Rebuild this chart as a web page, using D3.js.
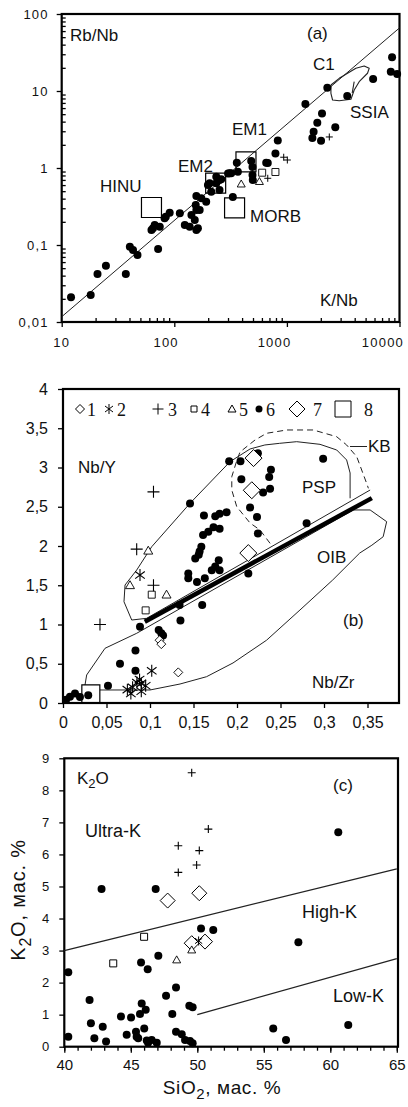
<!DOCTYPE html>
<html>
<head>
<meta charset="utf-8">
<script src="https://cdn.jsdelivr.net/npm/d3@7"></script>
<style>
  html, body { margin: 0; padding: 0; background: #fff; }
  svg text { font-family: "Liberation Sans", Arial, sans-serif; fill: #111; }
  .legend-num { font-family: "Liberation Serif", "Times New Roman", serif; }
</style>
</head>
<body>
<svg id="chart" width="408" height="1107"></svg>
<script>
// ---------- Panel (a): Rb/Nb vs K/Nb (log-log) ----------
const aXTicks = [10, 100, 1000, 10000];
const aYTicks = [0.01, 0.1, 1, 10, 100];
const aCircles = [
  [8590,27.4],[8370,17.8],[9530,16.6],[5830,14.3],[2285,11.0],[3435,8.6],[1460,6.8],[2050,5.1],
  [1862,3.87],[2690,3.38],[1727,2.96],[1683,2.45],[2010,2.26],[830,2.28],[791,1.54],[676,1.16],
  [482,1.23],[359,1.17],[495,1.03],[495,0.81],[320,0.853],[252,0.698],[206,0.632],[300,0.85],
  [261,0.713],[236,0.632],[199,0.601],[213,0.492],[252,0.518],[331,0.42],[174,0.404],[155,0.33],
  [157,0.285],[142,0.245],[152,0.211],[137,0.173],[162,0.165],[112,0.258],[91,0.262],[84,0.233],
  [74.3,0.173],[64.7,0.165],[124,0.182],[82,0.222],[71.8,0.0888],[40.3,0.095],[43,0.086],[47.1,0.074],
  [37.1,0.042],[24.7,0.0538],[20.8,0.042],[18.1,0.0224],[12.1,0.0209],[236,0.77],[310,0.853],
  [192,0.365],[168,0.285],[157,0.157],[67,0.182],[62.7,0.157],[157,0.433],[367,0.895],[498,0.698],[655,1.17]
];
const aPlus = [[2380,2.53],[937,1.38],[1009,1.27],[676,0.735]];
const aSmallSquares = [[603,0.869],[791,0.887]];
const aTriangles = [[393,0.62],[570,0.668]];
const aRefNames = ["EM1", "EM2", "HINU", "MORB"];
const aRefPoints = [[433,1.2],[233,0.638],[62.7,0.307],[343,0.303]];
const aTrend = [[10,0.0117],[10000,66]];
const aSSIA = [[2460,11.97],[2915,14.6],[4100,19.7],[4855,21.1],[5380,19.7],[5200,17.0],[4385,13.2],
  [3960,10.3],[3705,7.8],[2915,7.48],[2545,7.64],[2460,9.33],[2460,11.97]];
const aSSIATick = [[3960,13.2],[3800,9.42]];

// ---------- Panel (b): Nb/Y vs Nb/Zr ----------
const bXTicks = [0, 0.05, 0.1, 0.15, 0.2, 0.25, 0.3, 0.35];
const bYTicks = [0, 0.5, 1, 1.5, 2, 2.5, 3, 3.5, 4];
const bCircles = [
  [0.191,3.08],[0.204,3.08],[0.224,3.18],[0.299,3.11],[0.205,2.85],[0.239,2.97],[0.237,2.88],[0.238,2.73],
  [0.230,2.68],[0.146,2.54],[0.215,2.49],[0.223,2.37],[0.162,2.39],[0.175,2.38],[0.180,2.41],[0.188,2.43],
  [0.280,2.29],[0.173,2.24],[0.180,2.22],[0.161,2.14],[0.167,2.18],[0.224,2.16],[0.159,1.99],[0.157,1.93],
  [0.156,1.89],[0.152,1.84],[0.179,1.82],[0.175,1.74],[0.180,1.69],[0.171,1.69],[0.144,1.65],[0.144,1.59],
  [0.154,1.54],[0.163,1.59],[0.213,1.65],[0.134,1.25],[0.160,1.25],[0.0885,0.97],[0.135,1.05],[0.110,0.93],
  [0.113,0.89],[0.115,0.86],[0.0833,0.67],[0.0655,0.50],[0.0833,0.41],[0.0517,0.22],[0.0138,0.12],
  [0.008,0.08],[0.029,0.10],[0.0035,0.04],[0.0195,0.076]
];
const bAsterisks = [[0.0885,1.63],[0.102,0.41],[0.074,0.17],[0.08,0.2],[0.085,0.26],[0.09,0.25],
  [0.095,0.22],[0.088,0.3],[0.078,0.12],[0.09,0.15]];
const bPlus = [[0.0847,1.96],[0.0425,1.0],[0.104,1.5],[0.104,2.69]];
const bSmallSquares = [[0.102,1.38],[0.095,1.18]];
const bTriangles = [[0.098,1.94],[0.077,1.50],[0.119,1.38]];
const bSmallDiamonds = [[0.111,0.80],[0.113,0.75],[0.1325,0.39]];
const bBigDiamonds = [[0.219,3.12],[0.217,2.71],[0.213,1.91]];
const bBigSquares = [[0.032,0.115]];
const bThickLine = [[0.094,1.036],[0.355,2.61]];
const bUpperLine = [[0.0962,1.079],[0.353,2.713]];
const bPSP = [[0.0962,1.079],[0.079,1.057],[0.0701,1.29],[0.0713,1.503],[0.0847,1.694],[0.102,1.991],
  [0.146,2.544],[0.192,3.074],[0.215,3.236],[0.232,3.287],[0.249,3.308],[0.2686,3.329],[0.2954,3.295],
  [0.3146,3.223],[0.326,3.096],[0.330,2.930],[0.330,2.608]];
const bKB = [[0.238,2.034],[0.2264,2.204],[0.215,2.293],[0.1997,2.501],[0.194,2.713],[0.194,2.883],
  [0.1989,3.057],[0.2034,3.197],[0.2207,3.350],[0.2341,3.436],[0.2571,3.478],[0.2877,3.478],
  [0.3146,3.392],[0.326,3.287],[0.3376,3.138],[0.3433,2.968],[0.349,2.799],[0.351,2.735]];
const bOIB = [[0.0253,0.229],[0.0272,0.357],[0.0483,0.697],[0.0847,0.888],[0.3337,2.459],[0.353,2.459],
  [0.372,2.31],[0.368,2.118],[0.355,2.01],[0.341,1.91],[0.310,1.567],[0.2724,1.185],[0.234,0.80],
  [0.1954,0.51],[0.165,0.335],[0.1345,0.242],[0.1,0.166],[0.0425,0.166]];
const bLegendLabels = ["1", "2", "3", "4", "5", "6", "7", "8"];

// ---------- Panel (c): K2O vs SiO2 ----------
const cXTicks = [40, 45, 50, 55, 60, 65];
const cYTicks = [0, 1, 2, 3, 4, 5, 6, 7, 8, 9];
const cCircles = [
  [60.6,6.69],[42.8,4.92],[46.87,4.92],[51.2,3.64],[50.28,3.69],[57.6,3.26],[40.3,2.32],[45.77,2.63],
  [46.27,2.42],[47.07,2.84],[48.4,1.85],[47.65,1.59],[41.9,1.46],[45.82,1.35],[49.4,1.28],[49.65,1.23],
  [46.12,1.15],[45.69,1.02],[48.12,1.02],[44.26,0.94],[45.02,0.91],[42.0,0.73],[42.89,0.62],[46.01,0.57],
  [48.4,0.47],[45.39,0.47],[44.69,0.37],[45.44,0.31],[40.3,0.31],[42.26,0.26],[43.14,0.16],[45.56,0.26],
  [46.2,0.19],[46.57,0.21],[46.95,0.12],[46.3,0.12],[48.83,0.39],[49.08,0.21],[49.45,0.18],[49.65,0.11],
  [55.71,0.57],[56.67,0.21],[61.35,0.68]
];
const cPlus = [[49.58,8.55],[50.83,6.79],[48.57,6.27],[50.15,6.12],[48.57,5.44],[49.95,5.67]];
const cBigDiamonds = [[47.77,4.56],[50.15,4.79],[49.58,3.23],[50.58,3.28]];
const cSmallSquares = [[46.0,3.43],[43.68,2.60]];
const cTriangles = [[48.45,2.71],[49.58,3.02]];
const cAsterisks = [[50.1,3.3]];
const cUpperLine = [[40,3.0],[65,5.55]];
const cLowerLine = [[50,1.0],[65,2.75]];

// ---------- helpers ----------
const svg = d3.select("#chart");
const commaNum = d => String(d).replace(".", ",");

function shape(type, h) {
  const k = 0.6;
  switch (type) {
    case "diamond": return `M0,${-h}L${h},0L0,${h}L${-h},0Z`;
    case "square": return `M${-h},${-h}H${h}V${h}H${-h}Z`;
    case "triangle": return `M0,${-h}L${h},${h * 0.75}L${-h},${h * 0.75}Z`;
    case "plus": return `M${-h},0H${h}M0,${-h}V${h}`;
    case "asterisk": return `M0,${-h}V${h}M${-h * 0.8},${-h * k}L${h * 0.8},${h * k}M${-h * 0.8},${h * k}L${h * 0.8},${-h * k}`;
  }
}

function marks(g, data, x, y, type, h, opt = {}) {
  const sel = g.append("g").selectAll("path").data(data).join("path")
    .attr("transform", d => `translate(${x(d[0])},${y(d[1])})`);
  if (type === "circle") {
    sel.attr("d", d3.symbol(d3.symbolCircle, Math.PI * h * h)()).attr("fill", "#000");
  } else {
    sel.attr("d", shape(type, h))
      .attr("fill", type === "plus" || type === "asterisk" ? "none" : "#fff")
      .attr("stroke", "#000")
      .attr("stroke-width", opt.sw || 1);
  }
  return sel;
}

function polyline(g, pts, x, y, opt = {}) {
  g.append("path")
    .attr("d", d3.line().x(d => x(d[0])).y(d => y(d[1]))(pts))
    .attr("fill", "none")
    .attr("stroke", opt.color || "#222")
    .attr("stroke-width", opt.sw || 1)
    .attr("stroke-dasharray", opt.dash || null)
    .attr("stroke-linejoin", "round");
}

function label(g, text, x, y, size, opt = {}) {
  const t = g.append("text").attr("x", x).attr("y", y)
    .attr("font-size", size)
    .attr("text-anchor", opt.anchor || "start");
  if (opt.cls) t.attr("class", opt.cls);
  if (opt.ls) t.attr("letter-spacing", opt.ls);
  t.text(text);
  return t;
}

function frame(g, x0, x1, y0, y1) {
  g.append("rect").attr("x", x0).attr("y", y0)
    .attr("width", x1 - x0).attr("height", y1 - y0)
    .attr("fill", "none").attr("stroke", "#000").attr("stroke-width", 2.2);
}

function styleAxis(ax) {
  ax.select(".domain").remove();
  ax.selectAll(".tick line").attr("stroke", "#000").attr("stroke-width", 1.3);
  ax.selectAll(".tick text").attr("fill", "#111")
    .attr("font-family", '"Liberation Sans", Arial, sans-serif');
}

// ================= Panel (a) =================
{
  const g = svg.append("g");
  const x = d3.scaleLog().domain([10, 10000]).range([61.7, 399.5]);
  const y = d3.scaleLog().domain([0.01, 100]).range([322, 14]);

  // minor ticks
  const minorX = [], minorY = [];
  for (let p = 10; p < 10000; p *= 10) for (let m = 2; m <= 9; m++) minorX.push(p * m);
  for (let p = 0.01; p < 100; p *= 10) for (let m = 2; m <= 9; m++) minorY.push(+(p * m).toPrecision(3));

  const xa = g.append("g").attr("transform", "translate(0,322)")
    .call(d3.axisBottom(x).tickValues(aXTicks).tickFormat(d => d).tickSize(5).tickPadding(11));
  styleAxis(xa);
  xa.selectAll(".tick text").attr("font-size", 13).attr("letter-spacing", 1.2)
    .attr("text-anchor", "end").attr("dx", (d, i) => i === 0 ? 8 : 4);
  const xm = g.append("g").attr("transform", "translate(0,322)")
    .call(d3.axisTop(x).tickValues(minorX).tickFormat("").tickSize(4));
  styleAxis(xm);

  const ya = g.append("g").attr("transform", "translate(61.7,0)")
    .call(d3.axisLeft(y).tickValues(aYTicks).tickFormat(commaNum).tickSize(5).tickPadding(8));
  styleAxis(ya);
  ya.selectAll(".tick text").attr("font-size", 13).attr("letter-spacing", 1.2);
  const ym = g.append("g").attr("transform", "translate(61.7,0)")
    .call(d3.axisRight(y).tickValues(minorY).tickFormat("").tickSize(4));
  styleAxis(ym);

  frame(g, 61.7, 399.5, 14, 322);

  polyline(g, aTrend, x, y, { sw: 1 });
  polyline(g, aSSIA, x, y, { sw: 1.1 });
  polyline(g, aSSIATick, x, y, { sw: 1.1 });

  // reference compositions (open squares)
  g.append("g").selectAll("path").data(aRefPoints).join("path")
    .attr("transform", d => `translate(${x(d[0])},${y(d[1])})`)
    .attr("d", shape("square", 10)).attr("fill", "none")
    .attr("stroke", "#000").attr("stroke-width", 1.2);

  marks(g, aCircles, x, y, "circle", 4);
  marks(g, aTriangles, x, y, "triangle", 4, { sw: 0.9 });
  marks(g, aSmallSquares, x, y, "square", 3.5, { sw: 0.9 });
  marks(g, aPlus, x, y, "plus", 3.5, { sw: 1 });

  label(g, "Rb/Nb", 70, 40.5, 17);
  label(g, "(a)", 307, 39, 17);
  label(g, "C1", 313, 70, 17);
  label(g, "SSIA", 350, 118, 17);
  label(g, aRefNames[0], 232, 135, 17);
  label(g, aRefNames[1], 178, 171.5, 17);
  label(g, aRefNames[2], 100, 191.5, 17);
  label(g, aRefNames[3], 250, 221.5, 17);
  label(g, "K/Nb", 320, 306, 17);
}

// ================= Panel (b) =================
{
  const g = svg.append("g");
  const x = d3.scaleLinear().domain([0, 0.3862]).range([63, 399]);
  const y = d3.scaleLinear().domain([0, 4]).range([703, 389]);

  const xa = g.append("g").attr("transform", "translate(0,703)")
    .call(d3.axisBottom(x).tickValues(bXTicks).tickFormat(commaNum).tickSize(5).tickPadding(9));
  styleAxis(xa);
  xa.selectAll(".tick text").attr("font-size", 16);
  const ya = g.append("g").attr("transform", "translate(63,0)")
    .call(d3.axisLeft(y).tickValues(bYTicks).tickFormat(commaNum).tickSize(5).tickPadding(10));
  styleAxis(ya);
  ya.selectAll(".tick text").attr("font-size", 16);

  frame(g, 63, 399, 389, 703);

  polyline(g, bOIB, x, y, { sw: 1 });
  polyline(g, bPSP, x, y, { sw: 1 });
  polyline(g, bUpperLine, x, y, { sw: 1 });
  polyline(g, bKB, x, y, { sw: 1, dash: "6,4" });
  polyline(g, bThickLine, x, y, { sw: 4.5, color: "#000" });

  marks(g, bBigSquares, x, y, "square", 9, { sw: 1.2 }).attr("fill", "none");
  marks(g, bCircles, x, y, "circle", 4);
  marks(g, bBigDiamonds, x, y, "diamond", 8.5, { sw: 1 });
  marks(g, bSmallDiamonds, x, y, "diamond", 4.5, { sw: 0.9 });
  marks(g, bTriangles, x, y, "triangle", 4.5, { sw: 0.9 });
  marks(g, bSmallSquares, x, y, "square", 3.5, { sw: 0.9 });
  marks(g, bPlus, x, y, "plus", 6, { sw: 1.1 });
  marks(g, bAsterisks, x, y, "asterisk", 6, { sw: 1.1 });

  // legend row
  const legendSym = [
    { type: "diamond", h: 4.5, sx: 80, tx: 87 },
    { type: "asterisk", h: 5, sx: 109, tx: 117 },
    { type: "plus", h: 5.5, sx: 158, tx: 168 },
    { type: "square", h: 3, sx: 194, tx: 201 },
    { type: "triangle", h: 4, sx: 232, tx: 239 },
    { type: "circle", h: 3.5, sx: 259, tx: 266 },
    { type: "diamond", h: 8, sx: 297, tx: 313 },
    { type: "square", h: 8, sx: 343, tx: 364 }
  ];
  const lg = g.append("g");
  legendSym.forEach((s, i) => {
    const p = lg.append("path").attr("transform", `translate(${s.sx},409)`);
    if (s.type === "circle") p.attr("d", d3.symbol(d3.symbolCircle, Math.PI * s.h * s.h)()).attr("fill", "#000");
    else p.attr("d", shape(s.type, s.h)).attr("fill", "none").attr("stroke", "#000").attr("stroke-width", 1);
    label(lg, bLegendLabels[i], s.tx, 415.5, 18, { cls: "legend-num" });
  });

  label(g, "Nb/Y", 78, 473, 17);
  label(g, "PSP", 302, 493, 17);
  g.append("line").attr("x1", 350).attr("x2", 367).attr("y1", 446.5).attr("y2", 446.5)
    .attr("stroke", "#222").attr("stroke-width", 1);
  label(g, "KB", 368, 452, 17);
  label(g, "OIB", 317, 563, 17);
  label(g, "(b)", 343, 626, 17);
  label(g, "Nb/Zr", 312, 688, 17);
}

// ================= Panel (c) =================
{
  const g = svg.append("g");
  const x = d3.scaleLinear().domain([40, 65]).range([64.3, 396.8]);
  const y = d3.scaleLinear().domain([0, 9]).range([1046.7, 758.3]);

  const minorX = d3.range(40, 66, 1);
  const xm = g.append("g").attr("transform", "translate(0,1046.7)")
    .call(d3.axisBottom(x).tickValues(minorX).tickFormat("").tickSize(4));
  styleAxis(xm);
  const xa = g.append("g").attr("transform", "translate(0,1046.7)")
    .call(d3.axisBottom(x).tickValues(cXTicks).tickFormat(d => d).tickSize(6).tickPadding(7));
  styleAxis(xa);
  xa.selectAll(".tick text").attr("font-size", 15);
  const ya = g.append("g").attr("transform", "translate(64.3,0)")
    .call(d3.axisLeft(y).tickValues(cYTicks).tickFormat(d => d).tickSize(5).tickPadding(9));
  styleAxis(ya);
  ya.selectAll(".tick text").attr("font-size", 13).attr("letter-spacing", 1);

  frame(g, 64.3, 398, 758.3, 1046.7);

  polyline(g, cUpperLine, x, y, { sw: 1.2 });
  polyline(g, cLowerLine, x, y, { sw: 1.2 });

  marks(g, cCircles, x, y, "circle", 4);
  marks(g, cBigDiamonds, x, y, "diamond", 7.5, { sw: 1 });
  marks(g, cSmallSquares, x, y, "square", 3.5, { sw: 1 });
  marks(g, cTriangles, x, y, "triangle", 4, { sw: 0.9 });
  marks(g, cAsterisks, x, y, "asterisk", 4.5, { sw: 1 });
  marks(g, cPlus, x, y, "plus", 4, { sw: 1.1 });

  const k2o = label(g, "K", 77, 783.5, 17);
  k2o.append("tspan").attr("font-size", 13).attr("dy", 4).text("2");
  k2o.append("tspan").attr("dy", -4).text("O");
  label(g, "(c)", 333, 791, 17);
  label(g, "Ultra-K", 85, 836.5, 18);
  label(g, "High-K", 302, 918, 18);
  label(g, "Low-K", 333, 1001.5, 18);

  // axis titles
  const xt = g.append("text").attr("x", 222).attr("y", 1094)
    .attr("text-anchor", "middle").attr("font-size", 19).attr("letter-spacing", 0.6);
  xt.append("tspan").text("SiO");
  xt.append("tspan").attr("font-size", 15).attr("dy", 5).text("2");
  xt.append("tspan").attr("dy", -5).text(", мас. %");
  const yt = g.append("text").attr("transform", "translate(25,900) rotate(-90)")
    .attr("text-anchor", "middle").attr("font-size", 20).attr("letter-spacing", 0.8);
  yt.append("tspan").text("K");
  yt.append("tspan").attr("font-size", 16).attr("dy", 6).text("2");
  yt.append("tspan").attr("dy", -6).text("O, мас. %");
}
</script>
</body>
</html>
